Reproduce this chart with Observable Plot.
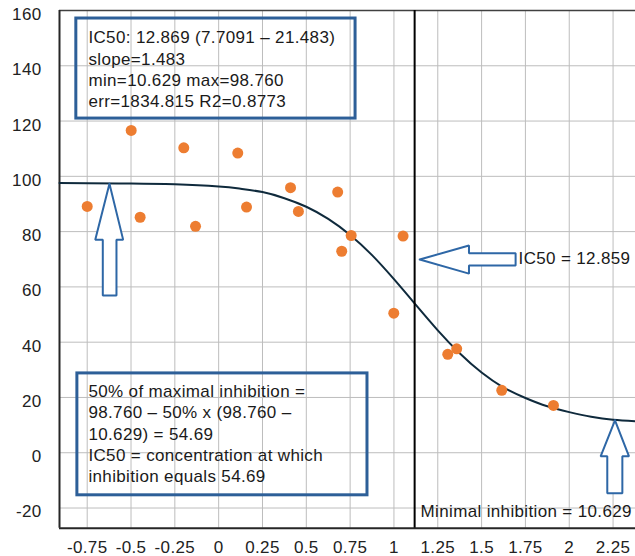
<!DOCTYPE html>
<html><head><meta charset="utf-8">
<script src="https://cdn.jsdelivr.net/npm/d3@7"></script>
<script src="https://cdn.jsdelivr.net/npm/@observablehq/plot@0.6"></script>
<style>
html,body{margin:0;padding:0;background:#fff;}
#chart svg text{letter-spacing:0.35px;}
</style></head><body><div id="chart"></div>
<script>
// Observed data points (log concentration, % inhibition)
const pointX = [-0.75,-0.499,-0.448,-0.199,-0.132,0.109,0.159,0.41,0.455,0.679,0.702,0.756,0.999,1.052,1.307,1.358,1.615,1.91];
const pointY = [89.1,116.6,85.2,110.3,81.9,108.4,88.9,95.9,87.3,94.3,72.9,78.6,50.5,78.4,35.6,37.6,22.6,17.1];
// Fitted curve
const curveX = [-0.908,-0.75,-0.5,-0.25,0,0.125,0.25,0.375,0.5,0.625,0.75,0.875,1,1.125,1.25,1.375,1.5,1.625,1.75,1.875,2,2.125,2.25,2.378];
const curveY = [97.6,97.5,97.4,97.1,96.3,95.5,94.3,92.1,89.0,84.6,78.8,71.5,62.8,53.5,44.3,36.0,29.0,23.6,19.8,16.8,14.7,13.0,11.9,11.4];
const ic50X = 1.118;
const xTicks = [-0.75,-0.5,-0.25,0,0.25,0.5,0.75,1,1.25,1.5,1.75,2,2.25];
const yTicks = [-20,0,20,40,60,80,100,120,140,160];
const box1Lines = ["IC50: 12.869 (7.7091 \u2013 21.483)","slope=1.483","min=10.629 max=98.760","err=1834.815 R2=0.8773"];
const box2Lines = ["50% of maximal inhibition =","98.760 \u2013 50% x (98.760 \u2013","10.629) = 54.69","IC50 = concentration at which","inhibition equals 54.69"];
const ic50Label = "IC50 = 12.859";
const minLabel = "Minimal inhibition = 10.629";

const points = pointX.map((x,i)=>({x, y: pointY[i]}));
const curve = curveX.map((x,i)=>({x, y: curveY[i]}));

const xDom = [-0.908, 2.378];
const yDom = [-27.3, 160];
const boxColor = "#2d5f98";
const arrowColor = "#2e67a6";

function poly(pts){ return pts.concat([pts[0]]).map(([x,y])=>({x,y})); }
const arrowLeft = poly([[-0.623,97.3],[-0.545,77.1],[-0.583,77.1],[-0.583,56.9],[-0.661,56.9],[-0.661,77.1],[-0.704,77.1]]);
const arrowRight = poly([[2.261,11.7],[2.341,-1.3],[2.303,-1.3],[2.303,-14.7],[2.217,-14.7],[2.217,-1.3],[2.179,-1.3]]);
const arrowIC = poly([[1.147,69.9],[1.428,75.0],[1.428,72.2],[1.694,72.2],[1.694,67.7],[1.428,67.7],[1.428,64.8]]);

const arrowOpts = {x:"x", y:"y", stroke: arrowColor, strokeWidth: 2, fill: "white", strokeLinejoin: "miter", curve: "linear"};
const fs = 17;

const chart = Plot.plot({
  width: 635, height: 556,
  marginLeft: 59, marginRight: 0, marginTop: 10, marginBottom: 28.3,
  style: {fontFamily: "'Liberation Sans', Arial, sans-serif", fontSize: fs + "px", color: "#222", background: "white"},
  x: {domain: xDom},
  y: {domain: yDom},
  marks: [
    Plot.gridX(xTicks, {stroke: "#bdbdbd", strokeOpacity: 1, strokeWidth: 1}),
    Plot.gridY(yTicks, {stroke: "#bdbdbd", strokeOpacity: 1, strokeWidth: 1}),
    Plot.ruleY([yDom[1]], {stroke: "#404040", strokeWidth: 1.5}),
    Plot.ruleY([yDom[0]], {stroke: "#262626", strokeWidth: 2}),
    Plot.ruleX([xDom[0]], {stroke: "#262626", strokeWidth: 2}),
    Plot.axisX({ticks: xTicks, tickFormat: d => String(d), tickSize: 0, tickPadding: 13, fontSize: fs, fill: "#222"}),
    Plot.axisY({ticks: yTicks, tickFormat: d => String(d), tickSize: 0, tickPadding: 18, dy: 4, fontSize: fs, fill: "#222"}),
    Plot.rect([{x1:-0.812,x2:0.781,y1:120.9,y2:157.1}], {x1:"x1",x2:"x2",y1:"y1",y2:"y2", fill:"none", stroke: boxColor, strokeWidth: 3}),
    Plot.rect([{x1:-0.806,x2:0.849,y1:-15.4,y2:28.7}], {x1:"x1",x2:"x2",y1:"y1",y2:"y2", fill:"none", stroke: boxColor, strokeWidth: 3}),
    Plot.line(curve, {x:"x", y:"y", stroke: "#0f2a3c", strokeWidth: 2, curve: "natural"}),
    Plot.ruleX([ic50X], {stroke: "black", strokeWidth: 2}),
    Plot.line(arrowLeft, arrowOpts),
    Plot.line(arrowRight, arrowOpts),
    Plot.line(arrowIC, arrowOpts),
    Plot.dot(points, {x:"x", y:"y", r: 5.5, fill: "#ed7d31", stroke: "none"}),
    Plot.text([{x:-0.743, y:139.0, t: box1Lines.join("\n")}], {x:"x", y:"y", text:"t", textAnchor:"start", lineAnchor:"middle", lineHeight: 1.25, fontSize: fs, fill:"#1a1a1a"}),
    Plot.text([{x:-0.743, y:7.2, t: box2Lines.join("\n")}], {x:"x", y:"y", text:"t", textAnchor:"start", lineAnchor:"middle", lineHeight: 1.25, fontSize: fs, fill:"#1a1a1a"}),
    Plot.text([{x:1.711, y:70.3, t: ic50Label}], {x:"x", y:"y", text:"t", textAnchor:"start", lineAnchor:"middle", fontSize: fs, fill:"#1a1a1a"}),
    Plot.text([{x:1.152, y:-21.1, t: minLabel}], {x:"x", y:"y", text:"t", textAnchor:"start", lineAnchor:"middle", fontSize: fs, fill:"#1a1a1a"})
  ]
});
document.getElementById("chart").appendChild(chart);
</script>
</body></html>
